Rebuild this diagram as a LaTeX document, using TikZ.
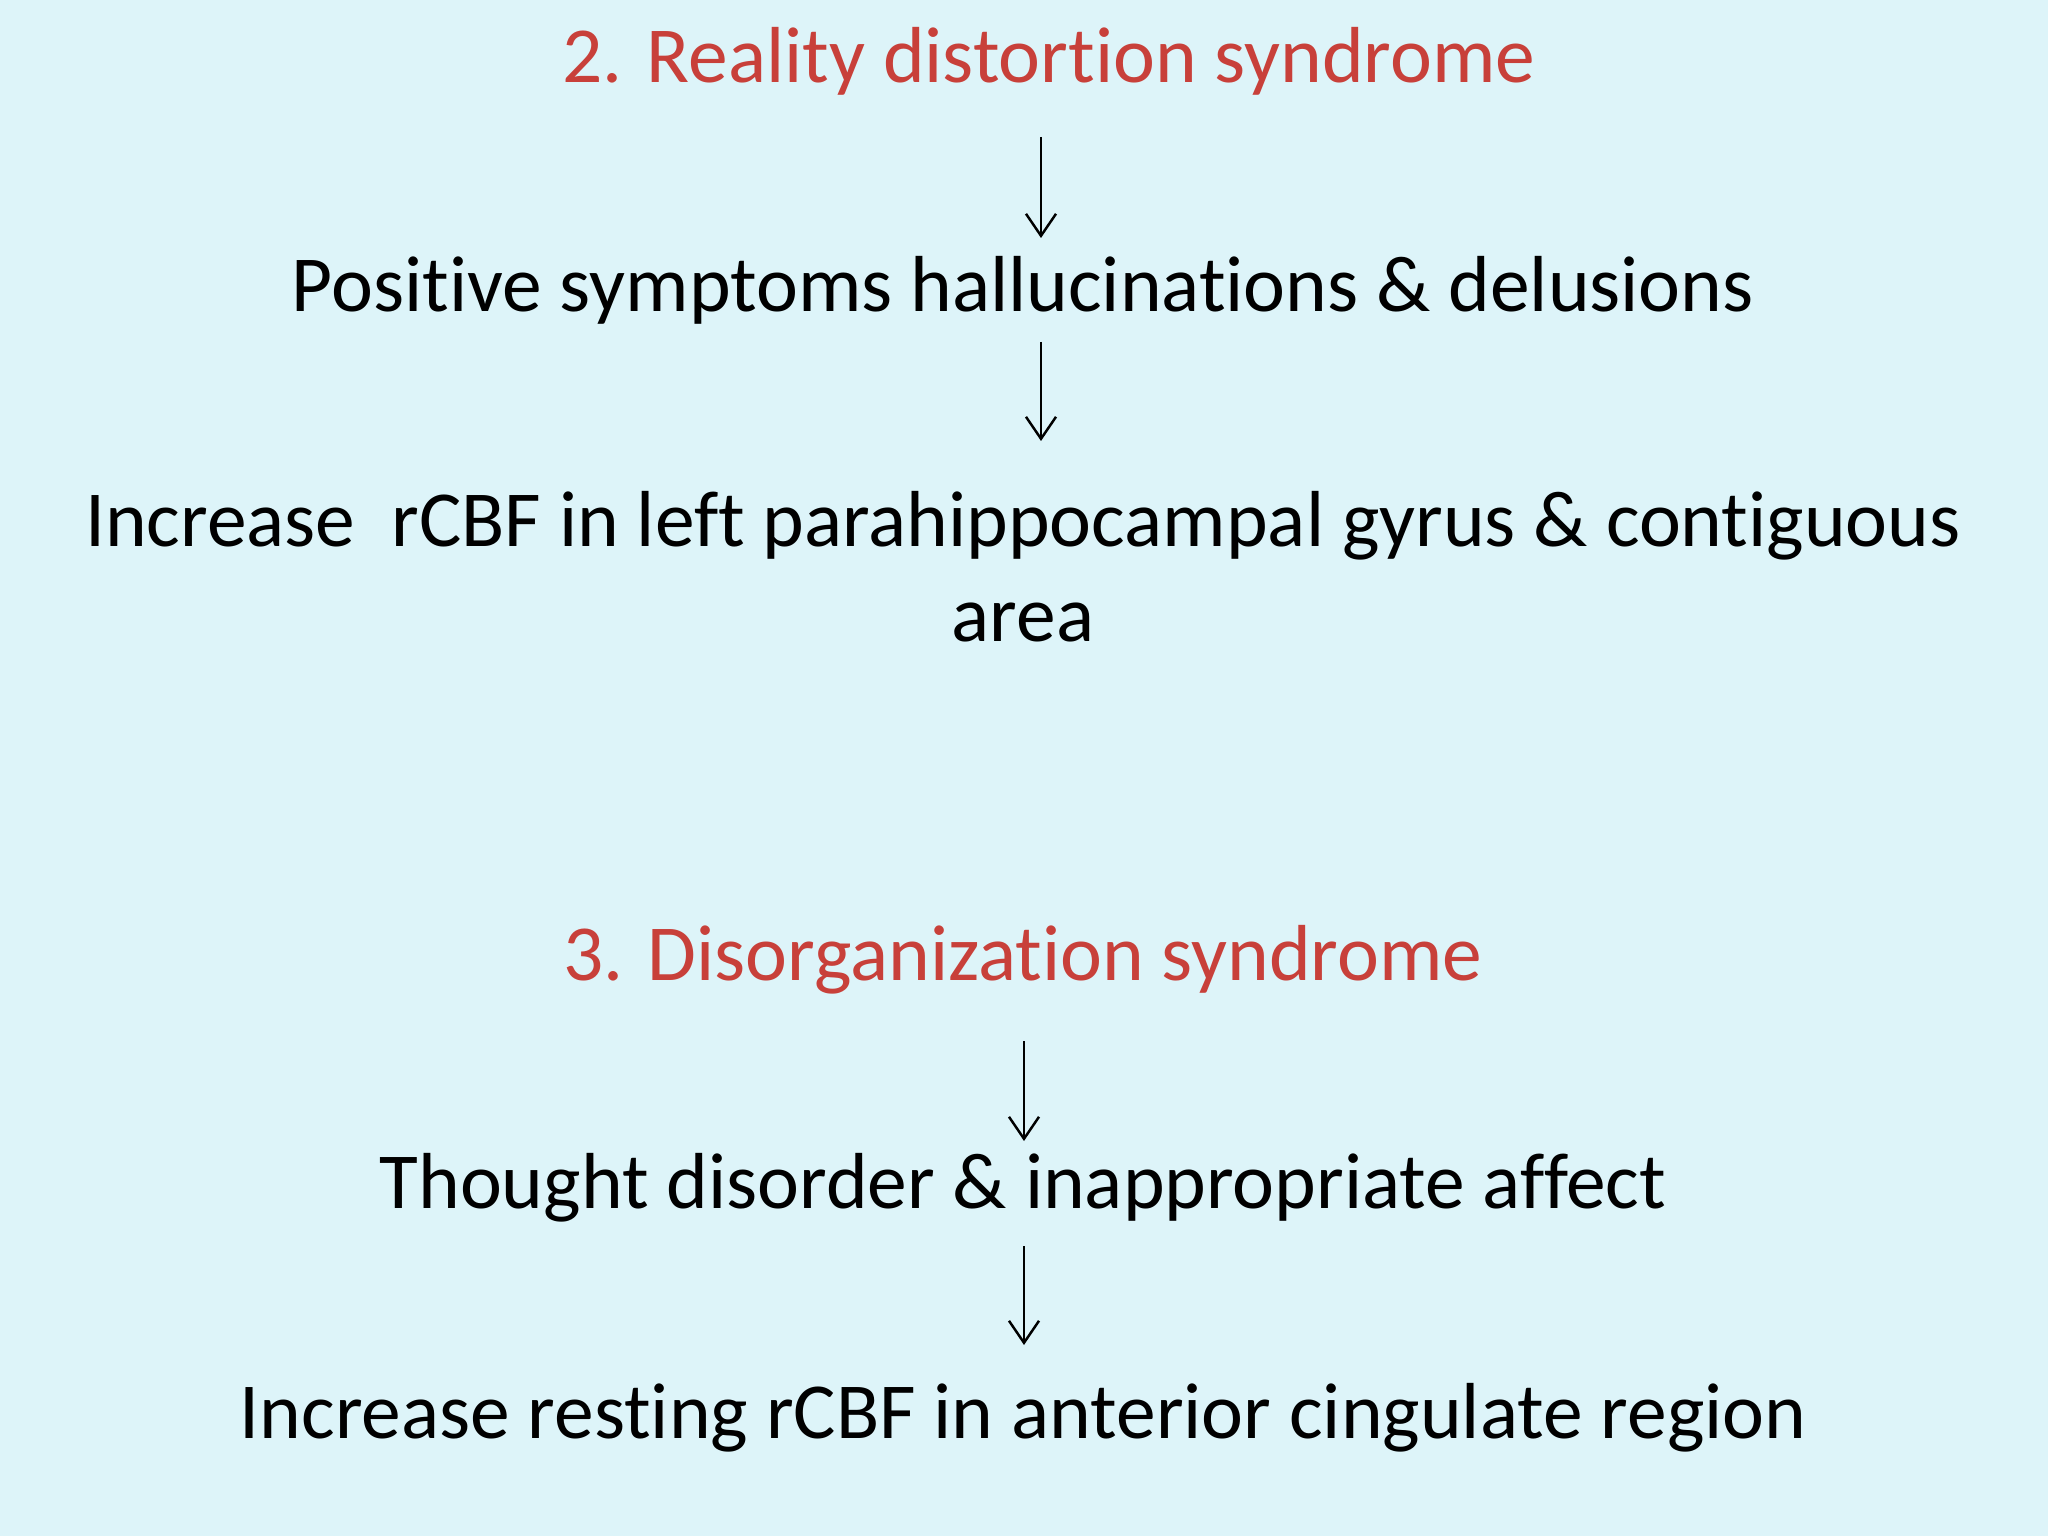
\documentclass[tikz,border=0pt]{standalone}
\usepackage{fontspec}
\setmainfont[Ligatures=NoCommon]{Carlito}
\usetikzlibrary{arrows.meta}
\definecolor{bg}{HTML}{DDF4F9}
\definecolor{ttl}{HTML}{C8403A}
\begin{document}
\begin{tikzpicture}[x=1cm,y=1cm,
  txt/.style={font=\fontsize{22.6}{27}\selectfont, inner sep=0pt, align=center},
  red/.style={txt, text=ttl},
  arr/.style={-{Straight Barb[length=2.2mm,width=3mm]}, line width=0.7pt}]
\fill[bg] (0,0) rectangle (20.48,-15.36);
\useasboundingbox (0,0) rectangle (20.48,-15.36);
\node[red] (t1) at (10.49,-0.61) {2. Reality distortion syndrome};
\node[txt] (p) at (10.23,-2.90) {Positive symptoms hallucinations \& delusions};
\node[txt] (i1) at (10.23,-5.67) {Increase\ \ rCBF in left parahippocampal gyrus \& contiguous\\area};
\node[red] (t2) at (10.23,-9.60) {3. Disorganization syndrome};
\node[txt] (th) at (10.23,-11.88) {Thought disorder \& inappropriate affect};
\node[txt] (i2) at (10.23,-14.18) {Increase resting rCBF in anterior cingulate region};
\coordinate (a1) at (10.41,-1.37); \coordinate (b1) at (10.41,-2.38);
\coordinate (a2) at (10.41,-3.42); \coordinate (b2) at (10.41,-4.41);
\coordinate (a3) at (10.24,-10.41); \coordinate (b3) at (10.24,-11.41);
\coordinate (a4) at (10.24,-12.46); \coordinate (b4) at (10.24,-13.45);
\draw[arr] (a1) -- (b1);
\draw[arr] (a2) -- (b2);
\draw[arr] (a3) -- (b3);
\draw[arr] (a4) -- (b4);
\end{tikzpicture}
\end{document}
